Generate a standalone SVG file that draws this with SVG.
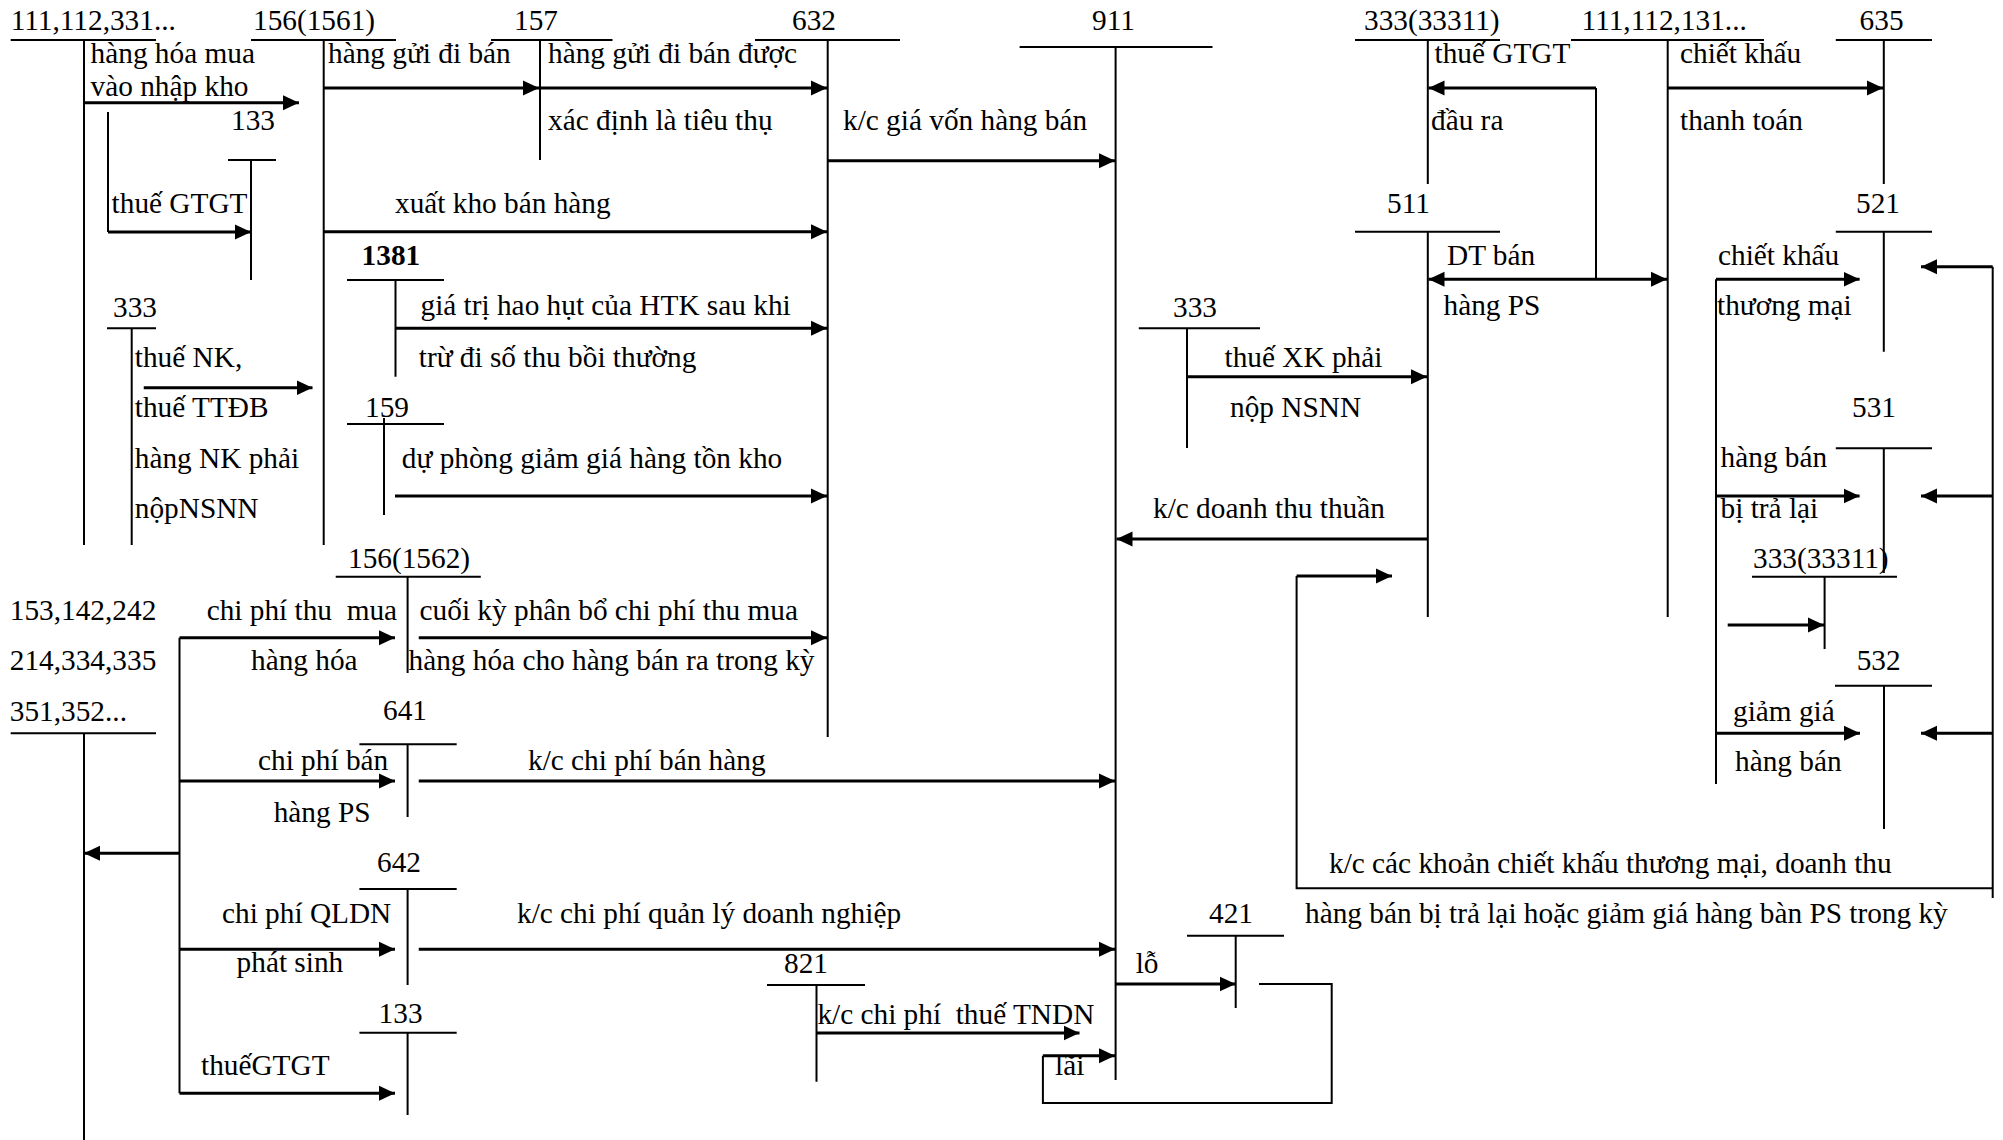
<svg xmlns="http://www.w3.org/2000/svg" width="2003" height="1140" viewBox="0 0 2003 1140">
<style>
text{font-family:"Liberation Serif","Times New Roman",serif;font-size:29.3px;fill:#000;white-space:pre}
.b{font-weight:bold}
.t{stroke:#000;stroke-width:2;fill:none}
.c{stroke:#000;stroke-width:3;fill:none}
.v{stroke:#000;stroke-width:2;fill:none}
.a{marker-end:url(#ah)}
</style>
<defs>
<marker id="ah" markerUnits="userSpaceOnUse" markerWidth="16" markerHeight="16" refX="16" refY="8" orient="auto-start-reverse">
<path d="M0,0.5 L16,8 L0,15.5 z" fill="#000"/>
</marker>
</defs>
<rect width="2003" height="1140" fill="#fff"/>

<g id="acc-111-top"><text x="10.7" y="30">111,112,331...</text><path class="t" d="M10.7,40H156M84,40V545"/></g>
<g id="acc-1561"><text x="253" y="30">156(1561)</text><path class="t" d="M251,40H396M323.7,40V545"/></g>
<g id="acc-157"><text x="514" y="30">157</text><path class="t" d="M491,40H612.5M540,40V160"/></g>
<g id="acc-632"><text x="792" y="30">632</text><path class="t" d="M755,40H900M827.7,40V737"/></g>
<g id="acc-911"><text x="1092" y="30">911</text><path class="t" d="M1019.6,47H1212.5M1115.6,47V1080"/></g>
<g id="acc-33311-top"><text x="1364" y="30">333(33311)</text><path class="t" d="M1355,40H1500M1427.8,40V184"/></g>
<g id="acc-111-right"><text x="1581.6" y="30">111,112,131...</text><path class="t" d="M1571,40H1764M1667.7,40V617"/></g>
<g id="acc-635"><text x="1859.6" y="30">635</text><path class="t" d="M1835.8,40H1932M1883.8,40V184"/></g>
<g id="acc-133-top"><text x="231" y="130">133</text><path class="t" d="M228,160H276M251,160V280"/></g>
<g id="acc-1381"><text class="b" x="361.6" y="265">1381</text><path class="t" d="M347,280H444M395.5,280V376.7"/></g>
<g id="acc-333-left"><text x="113" y="316.7">333</text><path class="t" d="M107,328.3H156M131.7,328.3V545"/></g>
<g id="acc-159"><text x="365" y="416.7">159</text><path class="t" d="M347,424H444M384,418V515"/></g>
<g id="acc-1562"><text x="348" y="568">156(1562)</text><path class="t" d="M335.7,576.7H480.8M407.6,576.7V673"/></g>
<g id="acc-153"><text x="9.8" y="620">153,142,242</text><text x="9.8" y="670">214,334,335</text><text x="9.8" y="720.7">351,352...</text><path class="t" d="M10.7,733.3H156M84,733.3V1140"/></g>
<g id="acc-641"><text x="383" y="720">641</text><path class="t" d="M359.4,744.3H456.7M407.6,744.3V817"/></g>
<g id="acc-642"><text x="377" y="871.7">642</text><path class="t" d="M359.4,889H456.7M407.6,889V985"/></g>
<g id="acc-133-bottom"><text x="378.6" y="1023.3">133</text><path class="t" d="M359.4,1032.7H456.7M407.6,1032.7V1115"/></g>
<g id="acc-821"><text x="784" y="973">821</text><path class="t" d="M767,985H865M816.5,985V1081.7"/></g>
<g id="acc-421"><text x="1209" y="922.7">421</text><path class="t" d="M1187,935.7H1284M1235.7,935.7V1008"/></g>
<g id="acc-333-xk"><text x="1173" y="316.7">333</text><path class="t" d="M1138.8,328.3H1260M1187,328.3V448"/></g>
<g id="acc-511"><text x="1387" y="213">511</text><path class="t" d="M1355,231.7H1500M1427.8,231.7V617"/></g>
<g id="acc-521"><text x="1856" y="213">521</text><path class="t" d="M1835.8,231.7H1932M1883.8,231.7V351.7"/></g>
<g id="acc-531"><text x="1852" y="416.7">531</text><path class="t" d="M1835.8,448.3H1932M1883.8,448.3V573"/></g>
<g id="acc-33311-right"><text x="1753" y="568">333(33311)</text><path class="t" d="M1752,576.7H1897M1824.6,576.7V649"/></g>
<g id="acc-532"><text x="1856.7" y="670">532</text><path class="t" d="M1835,685.7H1932M1884,685.7V829"/></g>

<g id="connectors">
<path class="c a" d="M84,102.7H299"/>
<path class="v" d="M108,112V232"/>
<path class="c a" d="M108,232H251"/>
<path class="c a" d="M323.7,88H539"/>
<path class="c a" d="M540,88H827"/>
<path class="c a" d="M827.7,160.7H1115"/>
<path class="c a" d="M323.7,231.7H827"/>
<path class="c a" d="M395.5,328.3H827"/>
<path class="c a" d="M143.75,387.7H312.5"/>
<path class="c a" d="M395,496H827"/>
<path class="c a" d="M418.75,637.7H827"/>
<path class="v" d="M179.5,637.7V1093.3"/>
<path class="c a" d="M179.5,637.7H395"/>
<path class="c a" d="M179.5,781H395"/>
<path class="c a" d="M179.5,949.3H395"/>
<path class="c a" d="M179.5,1093.3H395"/>
<path class="c a" d="M179.5,853.3H84"/>
<path class="c a" d="M418.75,781H1115"/>
<path class="c a" d="M418.75,949.3H1115"/>
<path class="c a" d="M816.5,1033H1079.5"/>
<path class="c a" d="M1115.6,984H1235.7"/>
<path class="v" d="M1259,984H1331.7V1103H1042.9V1055.7"/>
<path class="c a" d="M1042.9,1055.7H1115"/>
<path class="c a" d="M1187,376.7H1427"/>
<path class="c a" d="M1427.8,539H1116.5"/>
<path class="v" d="M1596,279.3V88"/>
<path class="c a" d="M1596,88H1428.5"/>
<path class="c a" d="M1428.5,279.3H1667" style="marker-start:url(#ah)"/>
<path class="c a" d="M1667.7,88H1883"/>
<path class="v" d="M1716,279.3V784"/>
<path class="c a" d="M1716,279.3H1859.6"/>
<path class="c a" d="M1716,496H1859.6"/>
<path class="c a" d="M1716,733.3H1860"/>
<path class="c a" d="M1727.7,625H1824"/>
<path class="v" d="M1992.7,266.7V898"/>
<path class="c a" d="M1992.7,266.7H1921"/>
<path class="c a" d="M1992.7,496H1921"/>
<path class="c a" d="M1992.7,733.3H1921"/>
<path class="v" d="M1992.7,888.3H1296.6V576"/>
<path class="c a" d="M1296.6,576H1392"/>
</g>

<g id="labels">
<text x="90.6" y="63">hàng hóa mua</text>
<text x="90.6" y="96">vào nhập kho</text>
<text x="328" y="63">hàng gửi đi bán</text>
<text x="548" y="63">hàng gửi đi bán được</text>
<text x="548" y="130">xác định là tiêu thụ</text>
<text x="843" y="130">k/c giá vốn hàng bán</text>
<text x="1434.5" y="63">thuế GTGT</text>
<text x="1431" y="130">đầu ra</text>
<text x="1680" y="63">chiết khấu</text>
<text x="1680" y="130">thanh toán</text>
<text x="111.6" y="213">thuế GTGT</text>
<text x="395" y="213">xuất kho bán hàng</text>
<text x="1447" y="265">DT bán</text>
<text x="1718" y="265">chiết khấu</text>
<text x="420.5" y="315">giá trị hao hụt của HTK sau khi</text>
<text x="1443.5" y="315">hàng PS</text>
<text x="1717" y="315">thương mại</text>
<text x="134.8" y="366.7">thuế NK,</text>
<text x="418.75" y="366.7">trừ đi số thu bồi thường</text>
<text x="1224.5" y="366.7">thuế XK phải</text>
<text x="134.8" y="417">thuế TTĐB</text>
<text x="1230" y="416.7">nộp NSNN</text>
<text x="134.8" y="468">hàng NK phải</text>
<text x="401.8" y="468">dự phòng giảm giá hàng tồn kho</text>
<text x="1720.6" y="466.7">hàng bán</text>
<text x="134.8" y="518">nộpNSNN</text>
<text x="1153" y="518">k/c doanh thu thuần</text>
<text x="1720.6" y="518">bị trả lại</text>
<text x="206.7" y="620">chi phí thu  mua</text>
<text x="419.6" y="620">cuối kỳ phân bổ chi phí thu mua</text>
<text x="251" y="670">hàng hóa</text>
<text x="408.5" y="670">hàng hóa cho hàng bán ra trong kỳ</text>
<text x="1733" y="720.7">giảm giá</text>
<text x="258" y="770">chi phí bán</text>
<text x="528" y="770">k/c chi phí bán hàng</text>
<text x="1735" y="770.7">hàng bán</text>
<text x="273.7" y="821.7">hàng PS</text>
<text x="1329" y="872.7">k/c các khoản chiết khấu thương mại, doanh thu</text>
<text x="222" y="922.7">chi phí QLDN</text>
<text x="517" y="922.7">k/c chi phí quản lý doanh nghiệp</text>
<text x="1305" y="923">hàng bán bị trả lại hoặc giảm giá hàng bàn PS trong kỳ</text>
<text x="236.6" y="971.7">phát sinh</text>
<text x="1135.7" y="973">lỗ</text>
<text x="817.4" y="1024">k/c chi phí  thuế TNDN</text>
<text x="201" y="1075">thuếGTGT</text>
<text x="1055" y="1075">lãi</text>
</g>
</svg>
